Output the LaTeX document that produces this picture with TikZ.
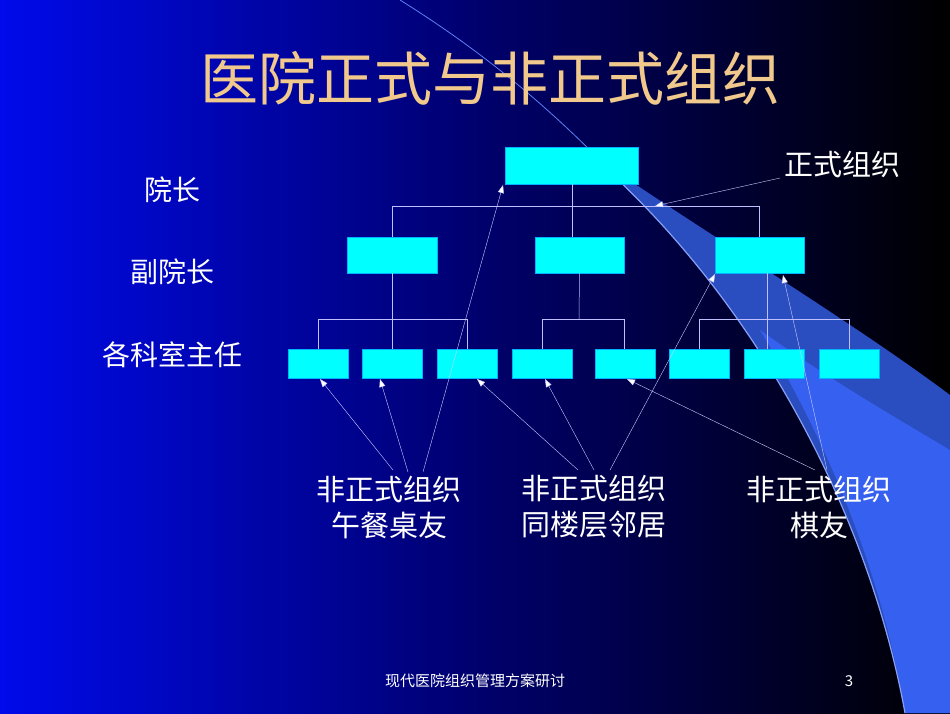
\documentclass[tikz,border=0pt]{standalone}
\usepackage{fontspec}
\setmainfont{Noto Sans CJK SC}
\usetikzlibrary{arrows.meta}
\definecolor{bx}{HTML}{00FFFF}
\definecolor{ttl}{HTML}{F2C98C}
\definecolor{sw}{HTML}{3560F0}
\begin{document}
\begin{tikzpicture}[x=1pt,y=-1pt,
  box/.style={fill=bx,draw=bx!70!blue,line width=0.4pt},
  conn/.style={draw=white!75!blue,line width=0.5pt},
  arr/.style={draw=white!80!blue,line width=0.4pt,-{Triangle[width=6pt,length=8pt,fill=white]}},
  lab/.style={text=white,font=\fontsize{29}{36}\selectfont,align=center,inner sep=0pt}]
\useasboundingbox (0,0) rectangle (950,713);
\shade[left color={rgb,255:red,0;green,10;blue,235},right color=black,middle color={rgb,255:red,0;green,0;blue,110}] (0,0) rectangle (950,713);
% swoosh
\fill[sw!80!black] (585,150) .. controls (700,230) and (850,320) .. (950,395) -- (950,713) -- (905,713) .. controls (870,520) and (760,300) .. cycle;
\fill[sw] (950,450) -- (950,713) -- (905,713) .. controls (880,560) and (820,430) .. (760,330) .. controls (830,380) and (900,420) .. cycle;
\draw[sw!60!white,line width=1.2pt] (585,150) .. controls (760,300) and (870,520) .. (905,713);
\draw[sw!80!white,line width=0.8pt] (400,0) .. controls (480,50) and (540,100) .. (600,160);
% title
\node[text=ttl,font=\fontsize{58}{64}\selectfont,inner sep=0pt] (title) at (490,78) {医院正式与非正式组织};
% level labels
\node[lab,font=\fontsize{28}{34}\selectfont] (l1) at (172,190) {院长};
\node[lab,font=\fontsize{28}{34}\selectfont] (l2) at (172,272) {副院长};
\node[lab,font=\fontsize{28}{34}\selectfont] (l3) at (172,355) {各科室主任};
% boxes
\node[box,minimum width=133pt,minimum height=37pt] (top) at (571.5,165.5) {};
\node[box,minimum width=90pt,minimum height=36pt] (m1) at (392,255) {};
\node[box,minimum width=89pt,minimum height=36pt] (m2) at (579.5,255) {};
\node[box,minimum width=89pt,minimum height=36pt] (m3) at (759.5,255) {};
\foreach \i/\x in {1/318,2/392,3/467,4/542,5/625,6/699,7/774,8/849}
  \node[box,minimum width=60pt,minimum height=29pt] (b\i) at (\x,363.5) {};
% connectors
\coordinate (h1) at (392,206); \coordinate (h3) at (759,206); \coordinate (hc) at (572,206);
\draw[conn] (top.south -| hc) -- (hc);
\draw[conn] (h1) -- (h3);
\draw[conn] (h1) -- (h1 |- m1.north);
\draw[conn] (h3) -- (h3 |- m3.north);
\draw[conn] (hc) -- (hc |- m2.north);
\coordinate (g1a) at (318,319); \coordinate (g1b) at (467,319);
\coordinate (g2a) at (542,319); \coordinate (g2b) at (624,319);
\coordinate (g3a) at (699,319); \coordinate (g3b) at (849,319);
\draw[conn] (g1a) -- (g1b) (g2a) -- (g2b) (g3a) -- (g3b);
\draw[conn] (m1.south) -- (b2.north);
\draw[conn] (g1a) -- (b1.north) (g1b) -- (b3.north);
\draw[conn] (m2.south) -- (579,319);
\draw[conn] (g2a) -- (b4.north) (g2b) -- (g2b |- b5.north);
\draw[conn] (767,273) -- (767,349);
\draw[conn] (g3a) -- (b6.north) (g3b) -- (b8.north);
% informal labels
\node[lab] (i1) at (389,507) {非正式组织\\午餐桌友};
\node[lab] (i2) at (594,507) {非正式组织\\同楼层邻居};
\node[lab] (i3) at (819,507) {非正式组织\\棋友};
\node[lab] (f) at (842,165) {正式组织};
\coordinate (f0) at (780,178);
\draw[arr] (f0) -- (655,206);
\coordinate (t11) at (393,470); \coordinate (t12) at (408,472); \coordinate (t13) at (423,472);
\draw[arr] (t11) -- (320,379);
\draw[arr] (t12) -- (380,379);
\draw[arr] (t13) -- (503,185);
\coordinate (t21) at (578,470); \coordinate (t22) at (594,470); \coordinate (t23) at (610,470);
\draw[arr] (t21) -- (477,379);
\draw[arr] (t22) -- (545,379);
\draw[arr] (t23) -- (715,274);
\coordinate (t31) at (815,470); \coordinate (t32) at (827,470);
\draw[arr] (t31) -- (627,379);
\draw[arr] (t32) -- (783,275);
% footer
\node[text=white,font=\fontsize{15}{17}\selectfont] (foot) at (475,681) {现代医院组织管理方案研讨};
\node[text=white,font=\fontsize{15}{17}\selectfont] (pg) at (849,681) {3};
\end{tikzpicture}
\end{document}
